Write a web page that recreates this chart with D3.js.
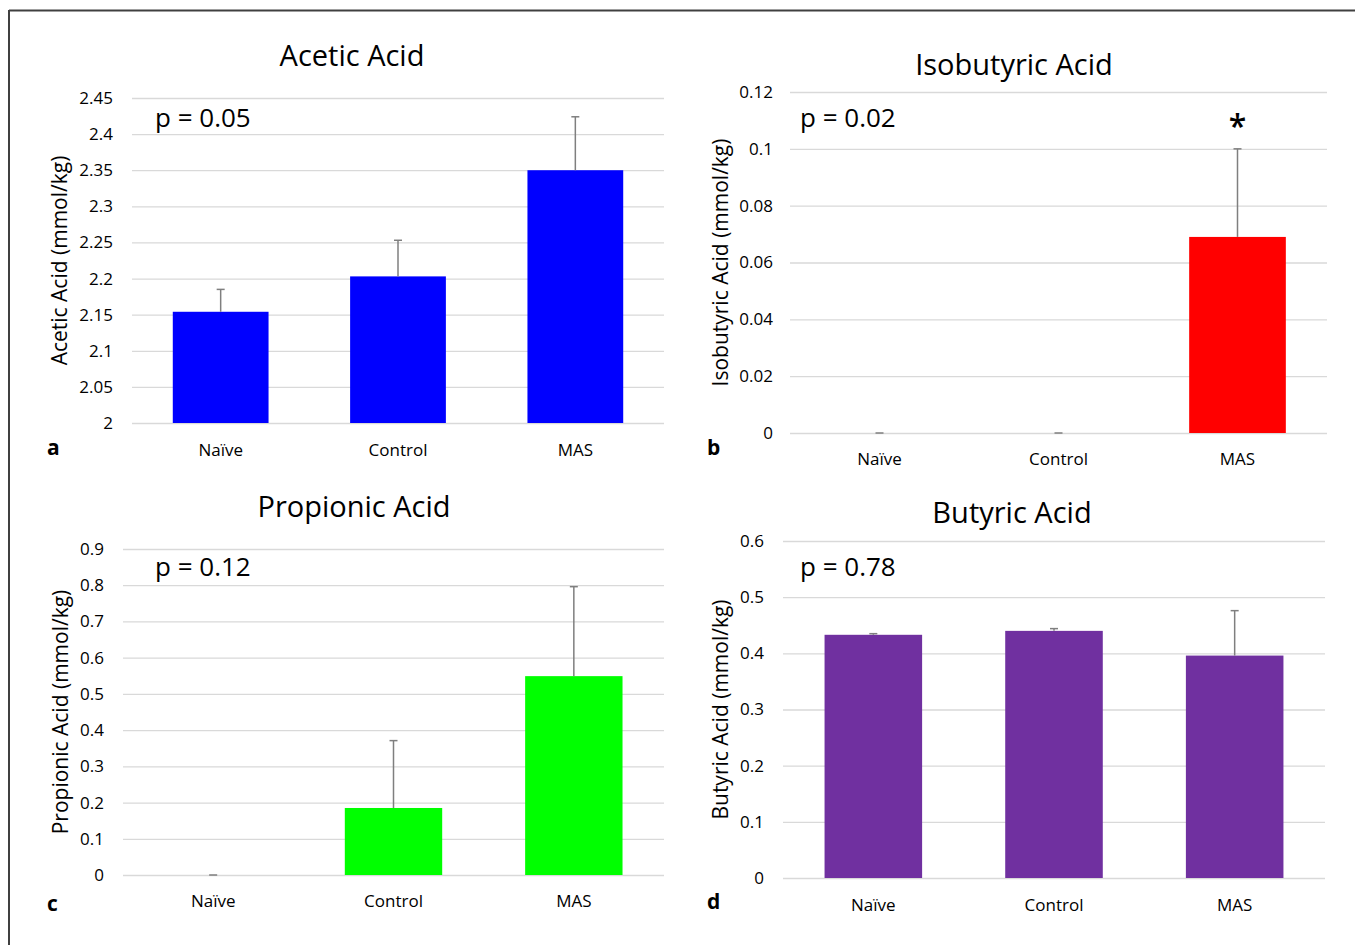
<!DOCTYPE html>
<html>
<head>
  <meta charset="utf-8">
  <script src="https://d3js.org/d3.v7.min.js"></script>
  <style>
    body {
      margin: 0;
      background: #fff;
      font-family: "Open Sans", sans-serif;
    }
    .grid line { stroke: #d9d9d9; stroke-width: 1.3; }
    .grid .domain { display: none; }
    .yax .domain, .xax .domain { display: none; }
    .yax text, .xax text { font-family: "Open Sans", sans-serif; fill: #000; }
  </style>
</head>
<body>
  <div id="chart"></div>
  <script>
    // categories and values
    var groups = ["Naïve", "Control", "MAS"];

    var aceticMean = [2.154, 2.203, 2.350];
    var aceticErr = [0.031, 0.050, 0.074];
    var aceticTicks = [2, 2.05, 2.1, 2.15, 2.2, 2.25, 2.3, 2.35, 2.4, 2.45];

    var isobutyricMean = [0, 0, 0.069];
    var isobutyricErr = [0, 0, 0.031];
    var isobutyricTicks = [0, 0.02, 0.04, 0.06, 0.08, 0.1, 0.12];

    var propionicMean = [0, 0.185, 0.549];
    var propionicErr = [0, 0.186, 0.247];
    var propionicTicks = [0, 0.1, 0.2, 0.3, 0.4, 0.5, 0.6, 0.7, 0.8, 0.9];

    var butyricMean = [0.433, 0.440, 0.396];
    var butyricErr = [0.002, 0.004, 0.080];
    var butyricTicks = [0, 0.1, 0.2, 0.3, 0.4, 0.5, 0.6];

    var W = 1355, H = 945;
    var svg = d3.select("#chart").append("svg")
      .attr("width", W)
      .attr("height", H);

    // frame (top and left edges only are visible)
    svg.append("line").attr("x1", 9).attr("y1", 10.5).attr("x2", W).attr("y2", 10.5)
      .attr("stroke", "#404040").attr("stroke-width", 2);
    svg.append("line").attr("x1", 9).attr("y1", 10).attr("x2", 9).attr("y2", H)
      .attr("stroke", "#404040").attr("stroke-width", 2);

    var panels = [
      { title: "Acetic Acid", ylab: "Acetic Acid (mmol/kg)", p: "p = 0.05", letter: "a",
        mean: aceticMean, err: aceticErr, ticks: aceticTicks, color: "#0000ff",
        x0: 132, x1: 664, yTop: 98, yBot: 423,
        titleX: 352, titleY: 66, pX: 155, pY: 127, letterX: 47, letterY: 455,
        labY: 456, tickX: 113, ylabX: 60 },
      { title: "Isobutyric Acid", ylab: "Isobutyric Acid (mmol/kg)", p: "p = 0.02", letter: "b",
        mean: isobutyricMean, err: isobutyricErr, ticks: isobutyricTicks, color: "#ff0000",
        x0: 790, x1: 1327, yTop: 92, yBot: 433, star: 2,
        titleX: 1014, titleY: 75, pX: 800, pY: 127, letterX: 707, letterY: 455,
        labY: 465, tickX: 773, ylabX: 721 },
      { title: "Propionic Acid", ylab: "Propionic Acid (mmol/kg)", p: "p = 0.12", letter: "c",
        mean: propionicMean, err: propionicErr, ticks: propionicTicks, color: "#00ff00",
        x0: 123, x1: 664, yTop: 549, yBot: 875,
        titleX: 354, titleY: 517, pX: 155, pY: 576, letterX: 47, letterY: 911,
        labY: 907, tickX: 104, ylabX: 61 },
      { title: "Butyric Acid", ylab: "Butyric Acid (mmol/kg)", p: "p = 0.78", letter: "d",
        mean: butyricMean, err: butyricErr, ticks: butyricTicks, color: "#7030a0",
        x0: 783, x1: 1325, yTop: 541, yBot: 878,
        titleX: 1012, titleY: 523, pX: 800, pY: 576, letterX: 707, letterY: 909,
        labY: 911, tickX: 764, ylabX: 721 }
    ];

    panels.forEach(function(c) {
      var g = svg.append("g");
      var x = d3.scaleBand().domain(groups).range([c.x0, c.x1])
        .paddingInner(0.46).paddingOuter(0.23);
      var y = d3.scaleLinear().domain([c.ticks[0], c.ticks[c.ticks.length - 1]])
        .range([c.yBot, c.yTop]);

      // gridlines
      g.append("g").attr("class", "grid")
        .attr("transform", "translate(" + c.x0 + ",0)")
        .call(d3.axisLeft(y).tickValues(c.ticks).tickSize(-(c.x1 - c.x0)).tickFormat(""));

      // y tick labels
      g.append("g").attr("class", "yax")
        .attr("transform", "translate(" + c.tickX + ",0)")
        .call(d3.axisLeft(y).tickValues(c.ticks).tickSize(0).tickPadding(0).tickFormat(function(d) { return String(d); }))
        .selectAll("text").style("font-size", "17px");

      // x labels
      g.append("g").attr("class", "xax")
        .attr("transform", "translate(0," + (c.labY - 12) + ")")
        .call(d3.axisBottom(x).tickSize(0).tickPadding(0))
        .selectAll("text").style("font-size", "17px").attr("dy", "0.71em");

      // bars
      g.selectAll(".bar").data(groups).enter().append("rect")
        .attr("x", function(d) { return x(d); })
        .attr("width", x.bandwidth())
        .attr("y", function(d, i) { return y(c.mean[i]); })
        .attr("height", function(d, i) { return y(c.ticks[0]) - y(c.mean[i]); })
        .attr("fill", c.color);

      // error bars (upper only)
      var eb = g.selectAll(".err").data(groups).enter().append("g");
      eb.append("line")
        .attr("x1", function(d) { return x(d) + x.bandwidth() / 2; })
        .attr("x2", function(d) { return x(d) + x.bandwidth() / 2; })
        .attr("y1", function(d, i) { return y(c.mean[i]); })
        .attr("y2", function(d, i) { return y(c.mean[i] + c.err[i]); })
        .attr("stroke", "#7f7f7f").attr("stroke-width", 1.5);
      eb.append("line")
        .attr("x1", function(d) { return x(d) + x.bandwidth() / 2 - 4; })
        .attr("x2", function(d) { return x(d) + x.bandwidth() / 2 + 4; })
        .attr("y1", function(d, i) { return y(c.mean[i] + c.err[i]); })
        .attr("y2", function(d, i) { return y(c.mean[i] + c.err[i]); })
        .attr("stroke", "#7f7f7f").attr("stroke-width", 1.5);

      if (c.star !== undefined) {
        var k = c.star;
        g.append("text")
          .attr("x", x(groups[k]) + x.bandwidth() / 2)
          .attr("y", y(c.mean[k] + c.err[k]) - 11)
          .attr("text-anchor", "middle")
          .style("font-size", "32px")
          .style("font-weight", "600")
          .text("*");
      }

      // title
      g.append("text")
        .attr("x", c.titleX).attr("y", c.titleY)
        .attr("text-anchor", "middle")
        .style("font-size", "29px")
        .text(c.title);

      // p value
      g.append("text")
        .attr("x", c.pX).attr("y", c.pY)
        .style("font-size", "26px")
        .text(c.p);

      // y axis label
      g.append("text")
        .attr("transform", "translate(" + c.ylabX + "," + ((c.yTop + c.yBot) / 2) + ") rotate(-90)")
        .attr("text-anchor", "middle")
        .attr("dy", "0.35em")
        .style("font-size", "21px")
        .text(c.ylab);

      // panel letter
      g.append("text")
        .attr("x", c.letterX).attr("y", c.letterY)
        .style("font-size", "21px")
        .style("font-weight", "bold")
        .text(c.letter);
    });
  </script>
</body>
</html>
